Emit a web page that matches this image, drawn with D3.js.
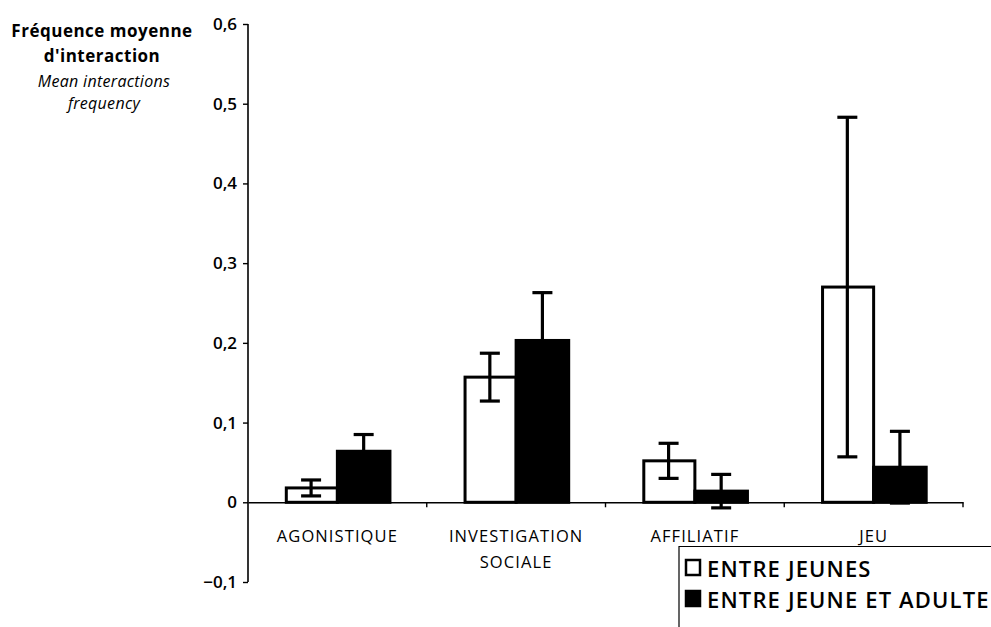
<!DOCTYPE html>
<html><head><meta charset="utf-8">
<script src="https://cdn.jsdelivr.net/npm/d3@7"></script>
<style>body{margin:0;background:#fff}svg{display:block}text{font-family:"Open Sans",Lato,sans-serif;fill:#000}</style>
</head><body><svg id="c" width="991" height="627"></svg>
<script>
const categories = ["AGONISTIQUE", "INVESTIGATION SOCIALE", "AFFILIATIF", "JEU"];
const categoryLines = [["AGONISTIQUE"], ["INVESTIGATION", "SOCIALE"], ["AFFILIATIF"], ["JEU"]];
const seriesNames = ["ENTRE JEUNES", "ENTRE JEUNE ET ADULTE"];
const entreJeunes = [0.018, 0.157, 0.052, 0.270];
const entreJeunesErr = [0.010, 0.030, 0.022, 0.213];
const jeuneAdulte = [0.064, 0.203, 0.014, 0.044];
const jeuneAdulteErr = [0.021, 0.060, 0.021, 0.045];
const yTicks = [-0.1, 0, 0.1, 0.2, 0.3, 0.4, 0.5, 0.6];

const svg = d3.select("#c");
const y = d3.scaleLinear().domain([-0.1, 0.6]).range([582, 24]);
const x0 = d3.scaleBand().domain(categories).range([248, 963]).paddingInner(0).paddingOuter(0);
const x1 = d3.scaleBand().domain(seriesNames).range([0, x0.bandwidth()]).paddingInner(0).paddingOuter(0.7);
const fill = {"ENTRE JEUNES": "#fff", "ENTRE JEUNE ET ADULTE": "#000"};

const rows = [];
categories.forEach((c, i) => {
  rows.push({cat: c, s: seriesNames[0], v: entreJeunes[i], e: entreJeunesErr[i]});
  rows.push({cat: c, s: seriesNames[1], v: jeuneAdulte[i], e: jeuneAdulteErr[i]});
});

// y axis
const fmt = v => v === 0 ? "0" : d3.format(".1f")(v).replace(".", ",");
const yAxis = svg.append("g").attr("transform", "translate(248,0)")
  .call(d3.axisLeft(y).tickValues(yTicks).tickFormat(fmt).tickSize(5).tickPadding(6));
yAxis.select(".domain").attr("stroke", "#000").attr("stroke-width", 1.6).attr("d", `M0,${y(0.6)}V${y(-0.1)}`);
yAxis.selectAll(".tick line").attr("stroke", "#000").attr("stroke-width", 1.4);
yAxis.selectAll(".tick text").attr("font-family", null).style("font-size", "17px").style("font-weight", "600");

// x axis at zero
const xAxis = svg.append("g").attr("transform", `translate(0,${y(0)})`)
  .call(d3.axisBottom(x0).tickValues([]).tickSizeOuter(0));
xAxis.select(".domain").attr("stroke", "#000").attr("stroke-width", 1.4);
const bounds = categories.map(c => x0(c) + x0.bandwidth());
xAxis.selectAll(".bt").data(bounds).join("line").attr("class", "bt")
  .attr("x1", d => d).attr("x2", d => d).attr("y1", 0).attr("y2", 5).attr("stroke", "#000").attr("stroke-width", 1.4);

// bars
svg.append("g").selectAll("rect").data(rows).join("rect")
  .attr("x", d => x0(d.cat) + x1(d.s) + (d.s === seriesNames[0] ? 1.5 : 0))
  .attr("y", d => y(d.v))
  .attr("width", d => x1.bandwidth() - (d.s === seriesNames[0] ? 1.5 : 0))
  .attr("height", d => y(0) - y(d.v))
  .attr("fill", d => fill[d.s]).attr("stroke", "#000").attr("stroke-width", 3);

// error bars
const eg = svg.append("g").attr("stroke", "#000").attr("stroke-width", 3.2);
rows.forEach(d => {
  const cx = x0(d.cat) + x1(d.s) + x1.bandwidth() / 2;
  eg.append("line").attr("x1", cx).attr("x2", cx).attr("y1", y(d.v + d.e)).attr("y2", y(d.v - d.e));
  eg.append("line").attr("x1", cx - 10).attr("x2", cx + 10).attr("y1", y(d.v + d.e)).attr("y2", y(d.v + d.e));
  eg.append("line").attr("x1", cx - 10).attr("x2", cx + 10).attr("y1", y(d.v - d.e)).attr("y2", y(d.v - d.e));
});

// category labels
categories.forEach((c, i) => {
  const cx = x0(c) + x0.bandwidth() / 2;
  const t = svg.append("text").attr("text-anchor", "middle").style("font-size", "16.5px").style("font-weight", "500").style("letter-spacing", "1.1px");
  categoryLines[i].forEach((l, j) => t.append("tspan").attr("x", cx).attr("y", 542 + j * 26).text(l));
});

// y title
const tt = svg.append("g");
tt.append("text").attr("x", 102).attr("y", 37).attr("text-anchor", "middle").style("font-size", "17px").style("font-weight", "700").style("letter-spacing", "0.5px").text("Fréquence moyenne");
tt.append("text").attr("x", 102).attr("y", 62).attr("text-anchor", "middle").style("font-size", "17px").style("font-weight", "700").style("letter-spacing", "0.5px").text("d'interaction");
tt.append("text").attr("x", 104).attr("y", 87).attr("text-anchor", "middle").style("font-size", "16px").style("font-style", "italic").style("letter-spacing", "0.3px").text("Mean interactions");
tt.append("text").attr("x", 104).attr("y", 109).attr("text-anchor", "middle").style("font-size", "16px").style("font-style", "italic").style("letter-spacing", "0.3px").text("frequency");

// legend
const lg = svg.append("g");
lg.append("path").attr("d", "M679,627V546.5H991").attr("fill", "none").attr("stroke", "#000").attr("stroke-width", 1.2);
seriesNames.forEach((s, i) => {
  const yy = 559 + i * 31;
  lg.append("rect").attr("x", 686).attr("y", yy + 1).attr("width", 14).attr("height", 15)
    .attr("fill", fill[s]).attr("stroke", "#000").attr("stroke-width", 2.5);
  lg.append("text").attr("x", 707).attr("y", yy + 18).style("font-size", "22px").style("font-weight", "600").style("letter-spacing", "1.15px").text(s);
});
</script></body></html>
